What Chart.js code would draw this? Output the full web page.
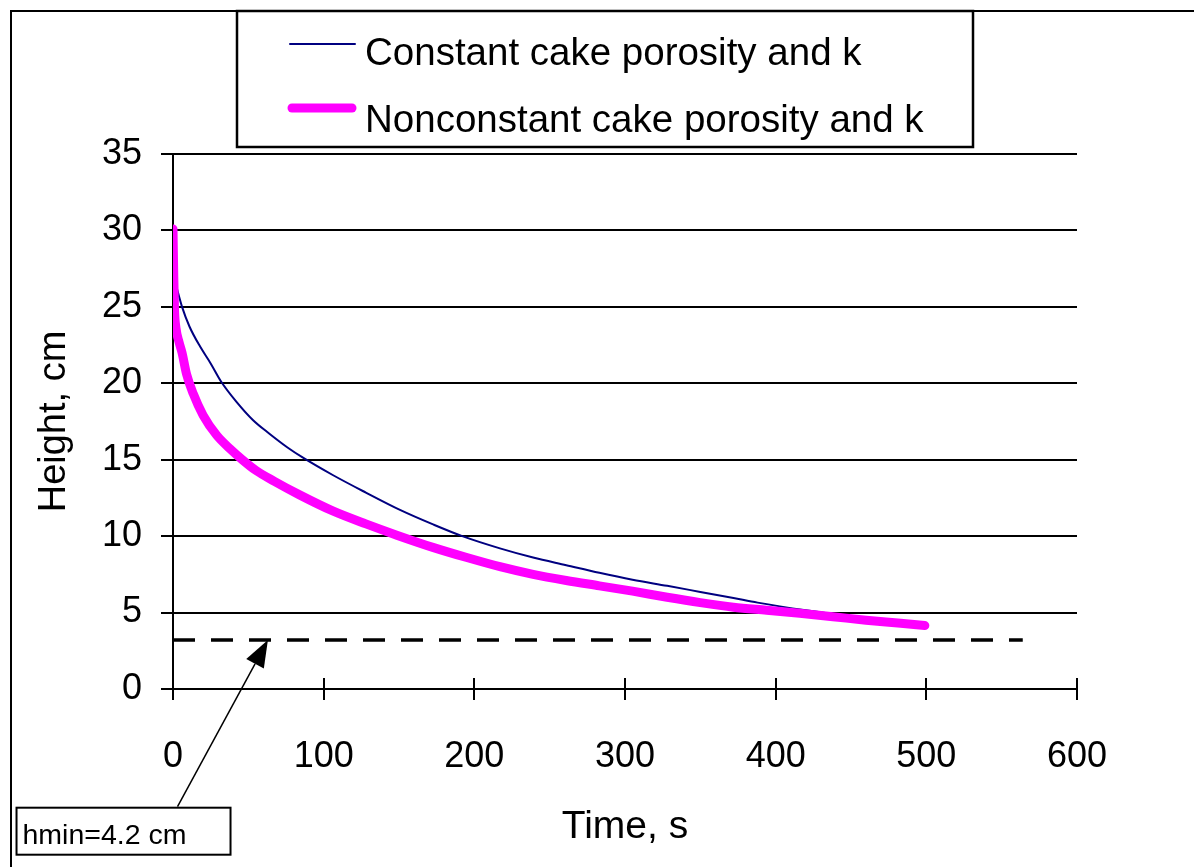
<!DOCTYPE html>
<html>
<head>
<meta charset="utf-8">
<script src="https://cdn.jsdelivr.net/npm/chart.js@4.4.1/dist/chart.umd.min.js"></script>
<style>
  body { margin: 0; background: #fff; }
  canvas { display: block; }
</style>
</head>
<body>
<canvas id="plots" width="1194" height="867"></canvas>
<script>
// values (time in s, height in cm)
const constT = [1.5, 6, 11, 18, 25, 32, 42, 53, 64, 76, 86, 106, 128, 151, 173, 192, 217, 239, 261, 283, 305, 328, 350, 372, 388, 420, 450, 480, 500]
const constH = [26.6, 25.0, 23.7, 22.4, 21.3, 20.1, 18.8, 17.6, 16.7, 15.8, 15.15, 14.0, 12.85, 11.7, 10.75, 10.0, 9.2, 8.6, 8.1, 7.6, 7.15, 6.75, 6.35, 5.95, 5.65, 5.15, 4.75, 4.45, 4.25]

const nonconstT = [0, 0.5, 1, 2, 4, 6, 9, 13.5, 20, 29, 38, 46, 55, 67, 84, 106, 128, 149, 173, 195, 217, 239, 261, 283, 305, 328, 350, 372, 394, 416, 438, 460, 483, 499]
const nonconstH = [30.1, 27.0, 24.8, 23.6, 22.7, 22.0, 20.6, 19.3, 17.9, 16.6, 15.7, 15.0, 14.3, 13.6, 12.7, 11.65, 10.8, 10.05, 9.25, 8.6, 8.0, 7.5, 7.1, 6.75, 6.4, 6.0, 5.65, 5.35, 5.15, 4.95, 4.73, 4.5, 4.3, 4.15]

const hminT = [0, 564]
const hminH = [3.2, 3.2]

// arrow from the note box to the dashed line (data units)
const arrowFrom = { t: 3, h: -7.7 }
const arrowTo = { t: 63, h: 3.2 }
const noteText = 'hmin=4.2 cm'

const seriesNames = ['Constant cake porosity and k', 'Nonconstant cake porosity and k']

const xTicks = [0, 100, 200, 300, 400, 500, 600]
const yTicks = [0, 5, 10, 15, 20, 25, 30, 35]

const FONT = '"Liberation Sans", Arial, sans-serif'

function pares(ts, hs) {
  return ts.map((t, i) => ({ x: t, y: hs[i] }))
}

const moldura = {
  id: 'moldura',
  beforeDraw(chart) {
    const ctx = chart.ctx
    ctx.save()
    ctx.fillStyle = '#fff'
    ctx.fillRect(0, 0, chart.width, chart.height)
    ctx.strokeStyle = '#000'
    ctx.lineWidth = 2
    ctx.beginPath()
    ctx.moveTo(11, chart.height)
    ctx.lineTo(11, 11)
    ctx.lineTo(chart.width, 11)
    ctx.stroke()
    ctx.restore()
  },
  afterDraw(chart) {
    const ctx = chart.ctx
    const xs = chart.scales.x
    const ys = chart.scales.y
    const base = ys.getPixelForValue(0)
    ctx.save()

    // ticks crossing the time axis
    ctx.strokeStyle = '#000'
    ctx.lineWidth = 2
    xTicks.forEach(v => {
      const px = Math.round(xs.getPixelForValue(v))
      ctx.beginPath()
      ctx.moveTo(px, base - 11)
      ctx.lineTo(px, base + 11)
      ctx.stroke()
    })

    // legend
    ctx.lineWidth = 2.5
    ctx.strokeRect(237, 11, 736, 136)
    const ds = chart.data.datasets
    const linhas = [44, 108]
    const bases = [65, 132]
    ctx.font = '38.5px ' + FONT
    ctx.fillStyle = '#000'
    ctx.textBaseline = 'alphabetic'
    for (let i = 0; i < 2; i++) {
      ctx.strokeStyle = ds[i].borderColor
      ctx.lineWidth = ds[i].borderWidth
      ctx.lineCap = 'round'
      ctx.beginPath()
      ctx.moveTo(i == 0 ? 290 : 292, linhas[i])
      ctx.lineTo(i == 0 ? 355 : 352, linhas[i])
      ctx.stroke()
      ctx.fillText(ds[i].label, 365, bases[i])
    }

    // arrow + note
    const x1 = xs.getPixelForValue(arrowFrom.t)
    const y1 = ys.getPixelForValue(arrowFrom.h)
    const x2 = xs.getPixelForValue(arrowTo.t)
    const y2 = ys.getPixelForValue(arrowTo.h)
    const ang = Math.atan2(y2 - y1, x2 - x1)
    const len = 27, half = 10
    const bx = x2 - len * Math.cos(ang)
    const by = y2 - len * Math.sin(ang)
    ctx.lineCap = 'butt'
    ctx.strokeStyle = '#000'
    ctx.lineWidth = 1.5
    ctx.beginPath()
    ctx.moveTo(x1, y1)
    ctx.lineTo(bx, by)
    ctx.stroke()
    ctx.beginPath()
    ctx.moveTo(x2, y2)
    ctx.lineTo(bx + half * Math.sin(ang), by - half * Math.cos(ang))
    ctx.lineTo(bx - half * Math.sin(ang), by + half * Math.cos(ang))
    ctx.closePath()
    ctx.fill()

    ctx.fillStyle = '#fff'
    ctx.fillRect(x1 - 161, y1 + 1, 214, 47)
    ctx.lineWidth = 2
    ctx.strokeRect(x1 - 161, y1 + 1, 214, 47)
    ctx.fillStyle = '#000'
    ctx.font = '28.5px ' + FONT
    ctx.fillText(noteText, x1 - 155, y1 + 37)
    ctx.restore()
  }
}

const grafico = new Chart(document.getElementById('plots'), {
  type: 'line',
  data: {
    datasets: [
      {
        label: seriesNames[0],
        data: pares(constT, constH),
        borderColor: '#000080',
        borderWidth: 2,
        pointRadius: 0,
        cubicInterpolationMode: 'monotone',
        fill: false,
        order: 2
      },
      {
        label: seriesNames[1],
        data: pares(nonconstT, nonconstH),
        borderColor: '#ff00ff',
        borderWidth: 9,
        borderCapStyle: 'round',
        borderJoinStyle: 'round',
        pointRadius: 0,
        cubicInterpolationMode: 'monotone',
        fill: false,
        order: 1
      },
      {
        label: 'hmin',
        data: pares(hminT, hminH),
        borderColor: '#000',
        borderWidth: 3.5,
        borderDash: [22, 16],
        pointRadius: 0,
        fill: false,
        order: 3
      }
    ]
  },
  options: {
    responsive: false,
    animation: false,
    layout: { padding: { top: 154, right: 117, left: 0, bottom: 0 } },
    plugins: {
      legend: { display: false },
      tooltip: { enabled: false }
    },
    scales: {
      x: {
        type: 'linear',
        min: 0,
        max: 600,
        afterFit(s) { s.height = 178 },
        afterBuildTicks(s) { s.ticks = xTicks.map(v => ({ value: v })) },
        grid: { drawOnChartArea: false, drawTicks: false },
        border: { color: '#000', width: 2 },
        ticks: { color: '#000', font: { family: FONT, size: 36 }, padding: 46 },
        title: {
          display: true,
          text: 'Time, s',
          color: '#000',
          font: { family: FONT, size: 39 },
          padding: { top: 0, bottom: 16 }
        }
      },
      y: {
        min: 0,
        max: 35,
        afterFit(s) { s.width = 173 },
        afterBuildTicks(s) { s.ticks = yTicks.map(v => ({ value: v })) },
        grid: { color: '#000', lineWidth: 2, tickLength: 12 },
        border: { color: '#000', width: 2 },
        ticks: { color: '#000', font: { family: FONT, size: 36 }, padding: 19 },
        title: {
          display: true,
          text: 'Height, cm',
          color: '#000',
          font: { family: FONT, size: 38 },
          padding: { top: 32, bottom: 0 }
        }
      }
    }
  },
  plugins: [moldura]
})
</script>
</body>
</html>
